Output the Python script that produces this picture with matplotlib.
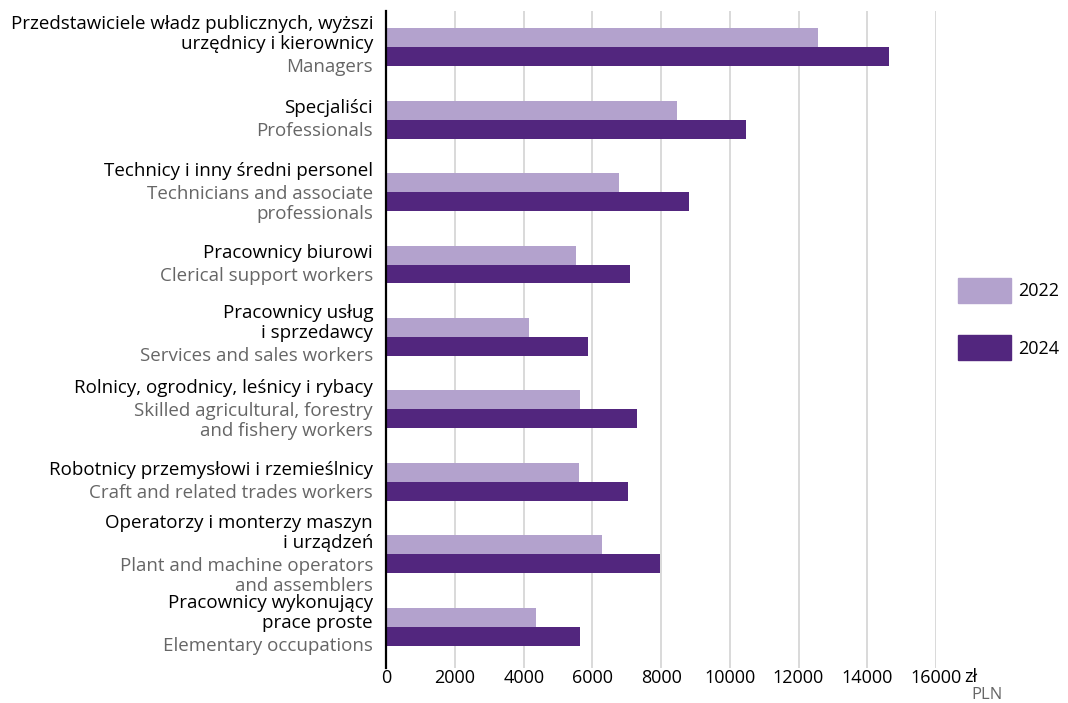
import numpy as np
import matplotlib.pyplot as plt
from matplotlib.patches import Patch

# --- dane ---
labels_pl = [
    "Przedstawiciele władz publicznych, wyższi\nurzędnicy i kierownicy",
    "Specjaliści",
    "Technicy i inny średni personel",
    "Pracownicy biurowi",
    "Pracownicy usług\ni sprzedawcy",
    "Rolnicy, ogrodnicy, leśnicy i rybacy",
    "Robotnicy przemysłowi i rzemieślnicy",
    "Operatorzy i monterzy maszyn\ni urządzeń",
    "Pracownicy wykonujący\nprace proste",
]
labels_en = [
    "Managers",
    "Professionals",
    "Technicians and associate\nprofessionals",
    "Clerical support workers",
    "Services and sales workers",
    "Skilled agricultural, forestry\nand fishery workers",
    "Craft and related trades workers",
    "Plant and machine operators\nand assemblers",
    "Elementary occupations",
]
values_2022 = [12560, 8470, 6780, 5530, 4160, 5640, 5620, 6290, 4370]
values_2024 = [14630, 10480, 8820, 7100, 5880, 7300, 7040, 7980, 5650]
xticks = [0, 2000, 4000, 6000, 8000, 10000, 12000, 14000, 16000]

c22 = "#b3a2cd"
c24 = "#52267e"
grey = "#666666"
FS = 13.5   # etykiety kategorii
FT = 13     # liczby na osi i legenda

plt.rcParams['font.family'] = ['Open Sans', 'DejaVu Sans']

fig = plt.figure(figsize=(10.68, 7.03), dpi=100)
ax = fig.add_axes([386.3 / 1068, 1 - 668 / 703, 549.6 / 1068, 657 / 703])

y = np.arange(len(labels_pl))
h = 0.262
ax.barh(y - h / 2, values_2022, height=h, color=c22, zorder=3)
ax.barh(y + h / 2, values_2024, height=h, color=c24, zorder=3)

ax.set_xlim(0, 16000)
ax.set_ylim(8.566, -0.497)
ax.set_xticks(xticks)
ax.set_xticklabels([str(t) for t in xticks], fontsize=FT)
ax.tick_params(axis='x', length=0, pad=1)
ax.set_yticks([])
ax.grid(axis='x', color='#d3d3d3', linewidth=1.2, zorder=0)
for s in ['top', 'right', 'bottom']:
    ax.spines[s].set_visible(False)
ax.spines['left'].set_linewidth(1.6)
ax.spines['left'].set_zorder(4)

# etykiety kategorii: polska nazwa (czarna) + angielska (szara)
step = 20 * 0.72   # odstep linii w punktach
gap = 3 * 0.72
for i in range(len(y)):
    pl = labels_pl[i].split("\n")
    en = labels_en[i].split("\n")
    lines = [(t, 'black') for t in pl] + [(t, grey) for t in en]
    n = len(lines)
    H = (n - 1) * step + gap
    shift = 2 * 0.72 if n == 3 and len(pl) == 2 else 0
    for k, (t, col) in enumerate(lines):
        off = -H / 2 + k * step + (gap if k >= len(pl) else 0) - shift
        ax.annotate(t, xy=(0, y[i]), xycoords=('axes fraction', 'data'),
                    xytext=(-9.5, -off), textcoords='offset points',
                    ha='right', va='center', fontsize=FS, color=col)

fig.text(964 / 1068, 1 - 677 / 703, "zł", ha='left', va='center', fontsize=FT)
fig.text(987 / 1068, 1 - 695 / 703, "PLN", ha='center', va='center', fontsize=FT - 1, color=grey)

handles = [Patch(color=c22, label='2022'), Patch(color=c24, label='2024')]
fig.legend(handles=handles, loc='center left', bbox_to_anchor=(958 / 1068, 1 - 319 / 703),
           frameon=False, fontsize=FT, handlelength=2.95, handleheight=1.75,
           labelspacing=1.8, handletextpad=0.4, borderpad=0, borderaxespad=0)

fig.savefig("out.png", dpi=100)
